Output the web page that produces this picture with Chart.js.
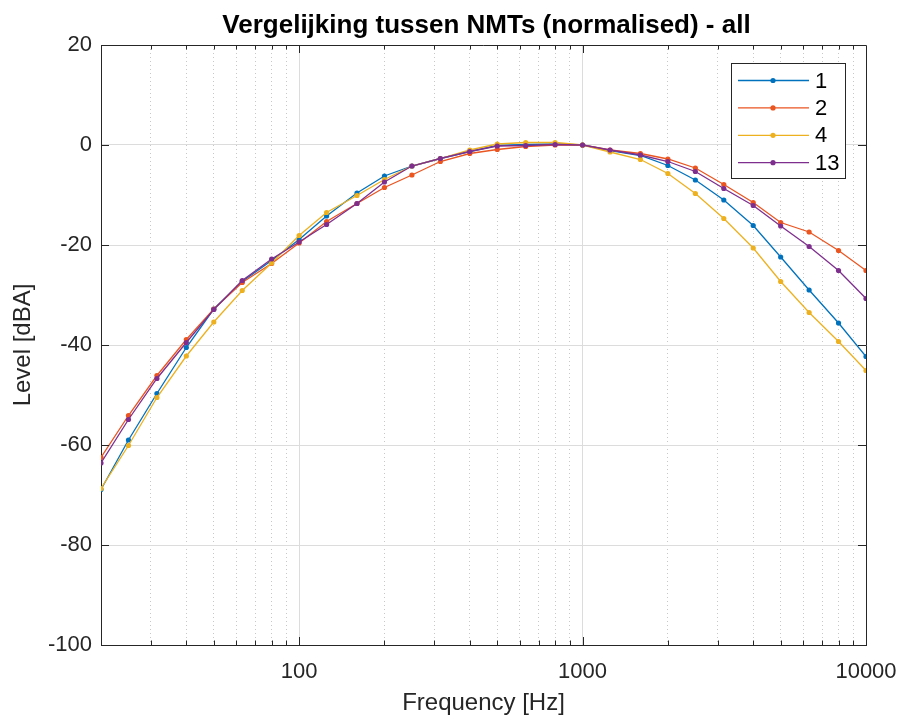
<!DOCTYPE html>
<html>
<head>
<meta charset="utf-8">
<script src="https://cdn.jsdelivr.net/npm/chart.js@4.4.1/dist/chart.umd.min.js"></script>
<style>
  html, body { margin: 0; padding: 0; background: #fff; }
  #wrap { width: 900px; height: 720px; }
</style>
</head>
<body>
<div id="wrap"><canvas id="chart"></canvas></div>
<script>
// third-octave band centres (Hz)
const freqs = [20, 25, 31.5, 40, 50, 63, 80, 100, 125, 160, 200, 250, 315, 400, 500, 630, 800,
  1000, 1250, 1600, 2000, 2500, 3150, 4000, 5000, 6300, 8000, 10000]

const seriesNames = ['1', '2', '4', '13']

// normalised level per band (dBA)
const nmt1 = [-68.9, -59.0, -49.7, -40.5, -32.8, -27.3, -23.1, -18.9, -14.2, -9.6, -6.2, -4.2, -2.7, -1.3,
  -0.1, 0.1, 0.2, 0, -1.1, -2.1, -4.1, -7.0, -11.0, -16.1, -22.4, -29.0, -35.6, -42.3]
const nmt2 = [-62.5, -54.1, -46.1, -38.9, -32.8, -27.5, -23.7, -19.6, -15.3, -11.7, -8.5, -6.0, -3.3, -1.7,
  -0.9, -0.3, 0.0, 0, -1.0, -1.7, -2.8, -4.6, -7.9, -11.5, -15.5, -17.4, -21.1, -25.1]
const nmt4 = [-68.7, -60.1, -50.5, -42.2, -35.4, -29.1, -23.6, -18.1, -13.5, -10.1, -6.9, -4.2, -2.7, -1.0,
  0.2, 0.5, 0.5, 0, -1.4, -2.9, -5.7, -9.7, -14.7, -20.6, -27.3, -33.5, -39.3, -45.1]
const nmt13 = [-63.6, -54.9, -46.7, -39.5, -32.9, -27.1, -22.8, -19.4, -15.9, -11.7, -7.4, -4.2, -2.7, -1.3,
  -0.2, -0.1, 0.1, 0, -1.0, -2.0, -3.3, -5.3, -8.7, -12.1, -16.2, -20.3, -25.1, -30.7]

const xLabelled = [100, 1000, 10000]
const yTicks = [-100, -80, -60, -40, -20, 0, 20]

const lineColors = ['#0072BD', '#EA5520', '#EDB120', '#7E2F8E']
const FONT = '"Liberation Sans", Arial, Helvetica, sans-serif'
const AXIS = '#262626'

// 20, 30 .. 90, 100, 200 .. 10000
const xTickVals = [20]
for (let d = 10; d <= 1000; d *= 10) {
  for (let m = (d === 10 ? 3 : 2); m <= 10; m++) xTickVals.push(m * d)
}
const isDecade = v => v === 100 || v === 1000 || v === 10000

const allSeries = [nmt1, nmt2, nmt4, nmt13]

// MATLAB-style box, inward ticks, title and legend
const decorations = {
  id: 'decorations',
  afterDraw (chart) {
    const { ctx, chartArea: a, scales } = chart
    const x = scales.x
    const y = scales.y
    ctx.save()
    ctx.strokeStyle = AXIS
    ctx.lineWidth = 1
    ctx.beginPath()
    ctx.moveTo(a.left, a.top + 0.5)
    ctx.lineTo(a.right + 0.5, a.top + 0.5)
    ctx.lineTo(a.right + 0.5, a.bottom)
    ctx.stroke()

    ctx.beginPath()
    xTickVals.forEach(v => {
      if (v === 20 || v === 10000) return
      const px = Math.round(x.getPixelForValue(v)) + 0.5
      const len = isDecade(v) ? 8 : 4.5
      ctx.moveTo(px, a.bottom)
      ctx.lineTo(px, a.bottom - len)
      ctx.moveTo(px, a.top)
      ctx.lineTo(px, a.top + len)
    })
    yTicks.forEach(v => {
      if (v === -100 || v === 20) return
      const py = Math.round(y.getPixelForValue(v)) + 0.5
      ctx.moveTo(a.left, py)
      ctx.lineTo(a.left + 8, py)
      ctx.moveTo(a.right, py)
      ctx.lineTo(a.right - 8, py)
    })
    ctx.stroke()

    // title
    ctx.fillStyle = '#000'
    ctx.font = 'bold 26px ' + FONT
    ctx.textAlign = 'center'
    ctx.textBaseline = 'alphabetic'
    ctx.fillText('Vergelijking tussen NMTs (normalised) - all', (a.left + a.right) / 2 + 3, 33)

    // legend box
    const bx = 731.5
    const by = 63.5
    const bw = 114
    const bh = 115
    ctx.fillStyle = '#fff'
    ctx.fillRect(bx, by, bw, bh)
    ctx.strokeStyle = AXIS
    ctx.strokeRect(bx, by, bw, bh)
    ctx.font = '22px ' + FONT
    ctx.textAlign = 'left'
    ctx.textBaseline = 'middle'
    chart.data.datasets.forEach((ds, i) => {
      const ly = 80.5 + i * 27.4
      ctx.strokeStyle = ds.borderColor
      ctx.lineWidth = 1.3
      ctx.beginPath()
      ctx.moveTo(738, ly)
      ctx.lineTo(809, ly)
      ctx.stroke()
      ctx.fillStyle = ds.borderColor
      ctx.beginPath()
      ctx.arc(773, ly, 2.6, 0, Math.PI * 2)
      ctx.fill()
      ctx.fillStyle = '#000'
      ctx.fillText(ds.label, 815, ly + 1)
    })
    ctx.restore()
  }
}

function build () {
  const canvas = document.getElementById('chart')
  const datasets = allSeries.map((vals, i) => ({
    label: seriesNames[i],
    data: freqs.map((f, j) => ({ x: f, y: vals[j] })),
    borderColor: lineColors[i],
    backgroundColor: lineColors[i],
    borderWidth: 1.3,
    pointRadius: 2.6,
    pointBorderWidth: 0,
    pointHoverRadius: 2.6,
    tension: 0,
    order: allSeries.length - i
  }))

  return new Chart(canvas.getContext('2d'), {
    type: 'line',
    data: { datasets },
    options: {
      responsive: true,
      maintainAspectRatio: false,
      animation: false,
      layout: { padding: { top: 45, right: 34, left: 0, bottom: 0 } },
      plugins: {
        legend: { display: false },
        title: { display: false },
        tooltip: { enabled: false }
      },
      scales: {
        x: {
          type: 'logarithmic',
          min: 20,
          max: 10000,
          afterBuildTicks: scale => {
            scale.ticks = xTickVals.map(v => ({ value: v, major: isDecade(v) }))
          },
          afterFit: scale => {
            scale.height = 75
            scale.paddingLeft = 0
            scale.paddingRight = 0
          },
          ticks: {
            autoSkip: false,
            maxRotation: 0,
            padding: 14,
            color: AXIS,
            font: { family: FONT, size: 22 },
            callback: value => (xLabelled.includes(value) ? String(value) : '')
          },
          grid: {
            drawTicks: false,
            color: c => {
              const v = c.tick ? c.tick.value : 0
              if (v === 20 || v === 10000) return 'rgba(0,0,0,0)'
              return isDecade(v) ? '#dcdcdc' : '#c8c8c8'
            }
          },
          border: {
            color: AXIS,
            width: 1,
            dash: c => (c.tick && !isDecade(c.tick.value) ? [1, 3] : [])
          },
          title: {
            display: true,
            text: 'Frequency [Hz]',
            color: AXIS,
            font: { family: FONT, size: 24 },
            padding: { top: 0, bottom: 2 }
          }
        },
        y: {
          type: 'linear',
          min: -100,
          max: 20,
          afterBuildTicks: scale => {
            scale.ticks = yTicks.map(v => ({ value: v }))
          },
          afterFit: scale => { scale.width = 101 },
          ticks: {
            padding: 9,
            color: AXIS,
            font: { family: FONT, size: 22 }
          },
          grid: {
            drawTicks: false,
            color: c => (c.tick && (c.tick.value === 20 || c.tick.value === -100) ? 'rgba(0,0,0,0)' : '#dcdcdc')
          },
          border: { color: AXIS, width: 1 },
          title: {
            display: true,
            text: 'Level [dBA]',
            color: AXIS,
            font: { family: FONT, size: 24 },
            padding: { top: 9, bottom: 0 }
          }
        }
      }
    },
    plugins: [decorations]
  })
}

build()
</script>
</body>
</html>
